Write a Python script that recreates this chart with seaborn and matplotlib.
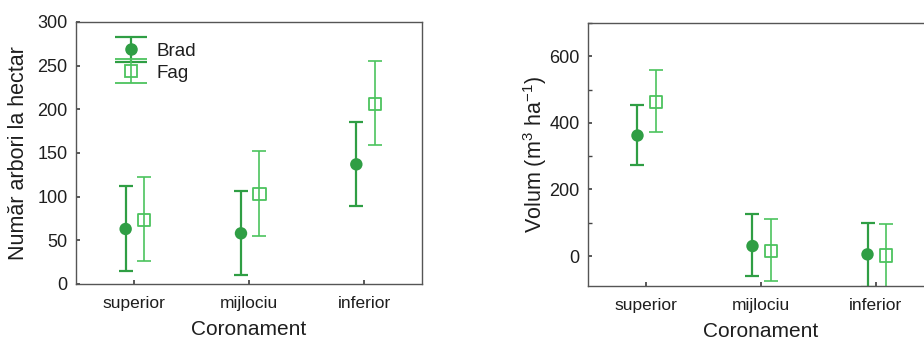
import numpy as np
import pandas as pd
import matplotlib
matplotlib.use("Agg")
import matplotlib.pyplot as plt
import seaborn as sns
from matplotlib.ticker import MultipleLocator
from matplotlib.container import ErrorbarContainer
from matplotlib.legend_handler import HandlerErrorbar

# Valori
categorii = ["superior", "mijlociu", "inferior"]
specii = ["Brad", "Fag"]

arbori_brad = [63, 58, 137]
arbori_brad_jos = [15, 10, 89]
arbori_brad_sus = [112, 106, 185]
arbori_fag = [73, 103, 206]
arbori_fag_jos = [26, 55, 159]
arbori_fag_sus = [122, 152, 255]

volum_brad = [362, 30, 5]
volum_brad_jos = [272, -60, -92]
volum_brad_sus = [455, 125, 100]
volum_fag = [463, 15, 2]
volum_fag_jos = [374, -74, -95]
volum_fag_sus = [559, 111, 97]

sns.set_theme(style="ticks")
plt.rcParams["font.family"] = ["Liberation Sans", "DejaVu Sans"]
plt.rcParams["mathtext.fontset"] = "custom"
plt.rcParams["mathtext.rm"] = "Liberation Sans"
plt.rcParams["mathtext.it"] = "Liberation Sans"

culori = {"Brad": "#2f9e44", "Fag": "#4cc35e"}
decalaj = {"Brad": -0.07, "Fag": 0.09}
grosime = {"Brad": 1.6, "Fag": 1.2}
markere = {"Brad": "o", "Fag": "s"}
text_col = "#1e1e1e"


def tabel(brad, brad_jos, brad_sus, fag, fag_jos, fag_sus):
    rows = []
    for i, c in enumerate(categorii):
        rows.append(dict(cat=c, idx=i, specie="Brad", m=brad[i], lo=brad_jos[i], hi=brad_sus[i]))
        rows.append(dict(cat=c, idx=i, specie="Fag", m=fag[i], lo=fag_jos[i], hi=fag_sus[i]))
    df = pd.DataFrame(rows)
    df["x"] = df["idx"] + df["specie"].map(decalaj)
    return df


def deseneaza(ax, df):
    for sp in specii:
        d = df[df["specie"] == sp]
        ax.errorbar(d["x"], d["m"], yerr=[d["m"] - d["lo"], d["hi"] - d["m"]],
                    fmt="none", ecolor=culori[sp], capsize=5, zorder=2,
                    elinewidth=grosime[sp], capthick=grosime[sp])
    sns.scatterplot(data=df, x="x", y="m", hue="specie", style="specie",
                    markers=markere, palette=culori, s=80,
                    ax=ax, legend=False, zorder=3, linewidth=0)
    # marcaj gol pentru Fag
    coll = ax.collections[-1]
    fc, ec = [], []
    for sp in df["specie"]:
        col = matplotlib.colors.to_rgba(culori[sp])
        fc.append((1, 1, 1, 0) if sp == "Fag" else col)
        ec.append(col)
    coll.set_facecolors(fc)
    coll.set_edgecolors(ec)
    coll.set_linewidths([1.3 if sp == "Fag" else 0 for sp in df["specie"]])
    ax.set_xlim(-0.5, 2.5)
    ax.set_xticks(range(3))
    ax.set_xticklabels(categorii)
    ax.set_xlabel("Coronament", fontsize=15, labelpad=6, color=text_col)
    ax.tick_params(axis="both", direction="in", labelsize=12.5, color="#444444",
                   length=3, labelcolor=text_col)
    ax.tick_params(axis="y", labelsize=13, pad=6)
    ax.tick_params(axis="x", pad=9)
    for s in ax.spines.values():
        s.set_color("#555555")
        s.set_linewidth(1.0)


fig = plt.figure(figsize=(9.24, 3.41), dpi=100)
ax1 = fig.add_axes([0.0823, 0.1672, 0.3745, 0.7683])
ax2 = fig.add_axes([0.6364, 0.1613, 0.3734, 0.7713])

df1 = tabel(arbori_brad, arbori_brad_jos, arbori_brad_sus, arbori_fag, arbori_fag_jos, arbori_fag_sus)
deseneaza(ax1, df1)
ax1.set_ylim(0, 300)
ax1.set_yticks(np.arange(0, 301, 50))
ax1.set_ylabel("Număr arbori la hectar", fontsize=15.5, labelpad=6, color=text_col)

# legenda cu bare de eroare
leg_handles = []
for sp in specii:
    kw = dict(mfc="none", mec=culori[sp], mew=1.3) if sp == "Fag" else dict(mfc=culori[sp], mec=culori[sp])
    h = ax1.errorbar([np.nan], [np.nan], yerr=[[1], [1]], fmt=markere[sp], linestyle="none",
                     color=culori[sp], ecolor=culori[sp], ms=8, capsize=11.5,
                     elinewidth=grosime[sp], capthick=grosime[sp], **kw)
    leg_handles.append(h)
leg = ax1.legend(leg_handles, specii, loc="upper left", frameon=False, fontsize=13.5,
                 bbox_to_anchor=(0.055, 0.985), handlelength=2.0, labelspacing=0.25,
                 handletextpad=0.4,
                 handler_map={ErrorbarContainer: HandlerErrorbar(xerr_size=0.6, yerr_size=0.65)})
for t in leg.get_texts():
    t.set_color(text_col)

df2 = tabel(volum_brad, volum_brad_jos, volum_brad_sus, volum_fag, volum_fag_jos, volum_fag_sus)
deseneaza(ax2, df2)
ax2.set_ylim(-90, 700)
ax2.set_yticks([0, 200, 400, 600])
ax2.yaxis.set_minor_locator(MultipleLocator(100))
ax2.tick_params(axis="y", which="minor", direction="in", length=3, color="#444444")
ax2.set_ylabel("Volum (m$^3$ ha$^{-1}$)", fontsize=15.5, labelpad=0, color=text_col)

fig.savefig("out.png", dpi=100)
